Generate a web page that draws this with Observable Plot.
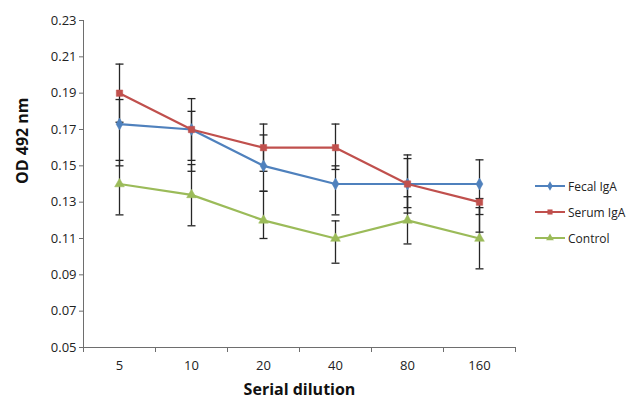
<!DOCTYPE html>
<html>
<head>
<meta charset="utf-8">
<script src="https://cdn.jsdelivr.net/npm/d3@7"></script>
<script src="https://cdn.jsdelivr.net/npm/@observablehq/plot@0.6"></script>
<style>
  html, body { margin: 0; padding: 0; background: #fff; }
  #wrap { position: relative; width: 643px; height: 403px; font-family: "Open Sans", sans-serif; }
  #legend { position: absolute; left: 534px; top: 173px; font-size: 12px; color: #222; }
  #legend .item { display: flex; align-items: center; height: 26px; }
  #legend svg { margin-right: 2px; }
</style>
</head>
<body>
<div id="wrap"><div id="legend"></div></div>
<script>
// ---- data ----
const dilutions = ["5", "10", "20", "40", "80", "160"];
const yTicks = [0.05, 0.07, 0.09, 0.11, 0.13, 0.15, 0.17, 0.19, 0.21, 0.23];

const seriesNames = ["Fecal IgA", "Serum IgA", "Control"];
const seriesColors = ["#4F81BD", "#C0504D", "#9BBB59"];
const seriesSymbols = ["diamond", "square", "triangle"];

const fecal    = [0.173, 0.170, 0.150, 0.140, 0.140, 0.140];
const fecalLo  = [0.150, 0.147, 0.136, 0.123, 0.127, 0.1232];
const fecalHi  = [0.1865, 0.180, 0.167, 0.150, 0.154, 0.1533];

const serum    = [0.190, 0.170, 0.160, 0.160, 0.140, 0.130];
const serumLo  = [0.174, 0.153, 0.147, 0.148, 0.124, 0.1135];
const serumHi  = [0.206, 0.187, 0.173, 0.173, 0.156, 0.132];

const control   = [0.140, 0.134, 0.120, 0.110, 0.120, 0.110];
const controlLo = [0.123, 0.117, 0.110, 0.0964, 0.107, 0.0933];
const controlHi = [0.153, 0.1507, 0.136, 0.1197, 0.133, 0.127];

// ---- table built from the arrays ----
const values = [fecal, serum, control];
const los = [fecalLo, serumLo, controlLo];
const his = [fecalHi, serumHi, controlHi];
const data = [];
seriesNames.forEach((s, k) => {
  dilutions.forEach((d, i) => {
    data.push({series: s, idx: i + 0.5, label: d, value: values[k][i], lo: los[k][i], hi: his[k][i]});
  });
});

const capSymbol = {
  draw(ctx, size) {
    const r = Math.sqrt(size / Math.PI);
    ctx.moveTo(-r, 0);
    ctx.lineTo(r, 0);
  }
};

const yDomain = [yTicks[0], yTicks[yTicks.length - 1]];
const bounds = d3.range(dilutions.length + 1);
const centers = dilutions.map((d, i) => i + 0.5);
const axisColor = "#6e6e6e";
const barColor = "#262626";

const chart = Plot.plot({
  width: 643,
  height: 403,
  marginLeft: 83,
  marginRight: 128,
  marginTop: 20,
  marginBottom: 56,
  style: {fontFamily: "'Open Sans', sans-serif", fontSize: "13px", color: "#222", background: "#fff"},
  x: {type: "linear", domain: [0, dilutions.length]},
  y: {domain: yDomain},
  color: {domain: seriesNames, range: seriesColors},
  symbol: {domain: seriesNames, range: seriesSymbols},
  marks: [
    Plot.axisY({ticks: yTicks, tickFormat: d3.format(".2f"), tickSize: 4, tickPadding: 3, stroke: axisColor, label: null, fontSize: 13}),
    Plot.axisX({ticks: bounds, tickFormat: () => "", tickSize: 5, stroke: axisColor, label: null}),
    Plot.axisX({ticks: centers, tickFormat: v => dilutions[Math.round(v - 0.5)], tickSize: 0, tickPadding: 13, label: null, fontSize: 13}),
    Plot.ruleX([0], {y1: yDomain[0], y2: yDomain[1], stroke: axisColor, strokeWidth: 1}),
    Plot.ruleY([yDomain[0]], {stroke: axisColor, strokeWidth: 1}),
    Plot.line(data, {x: "idx", y: "value", z: "series", stroke: "series", strokeWidth: 2.2}),
    Plot.ruleX(data, {x: "idx", y1: "lo", y2: "hi", stroke: barColor, strokeWidth: 1.3}),
    Plot.dot(data, {x: "idx", y: "lo", symbol: capSymbol, r: 4, stroke: barColor, strokeWidth: 1.3, fill: "none"}),
    Plot.dot(data, {x: "idx", y: "hi", symbol: capSymbol, r: 4, stroke: barColor, strokeWidth: 1.3, fill: "none"}),
    Plot.dot(data, {x: "idx", y: "value", symbol: "series", fill: "series", stroke: "series", strokeWidth: 0.5, r: 3.6}),
    Plot.text(["Serial dilution"], {frameAnchor: "bottom", dy: 47, fontWeight: "bold", fontSize: 16, fill: "#111"}),
    Plot.text(["OD 492 nm"], {frameAnchor: "left", dx: -61, rotate: -90, fontWeight: "bold", fontSize: 16, fill: "#111"})
  ]
});
const wrap = document.getElementById("wrap");
wrap.insertBefore(chart, wrap.firstChild);

// ---- legend ----
const legend = d3.select("#legend");
seriesNames.forEach((s, k) => {
  const item = legend.append("div").attr("class", "item");
  const svg = item.append("svg").attr("width", 32).attr("height", 12);
  svg.append("line").attr("x1", 1).attr("x2", 31).attr("y1", 6).attr("y2", 6)
    .attr("stroke", seriesColors[k]).attr("stroke-width", 2);
  const symType = {diamond: d3.symbolDiamond, square: d3.symbolSquare, triangle: d3.symbolTriangle}[seriesSymbols[k]];
  svg.append("path").attr("transform", "translate(16,6)")
    .attr("d", d3.symbol(symType, 26)()).attr("fill", seriesColors[k]);
  item.append("span").text(s);
});
</script>
</body>
</html>
